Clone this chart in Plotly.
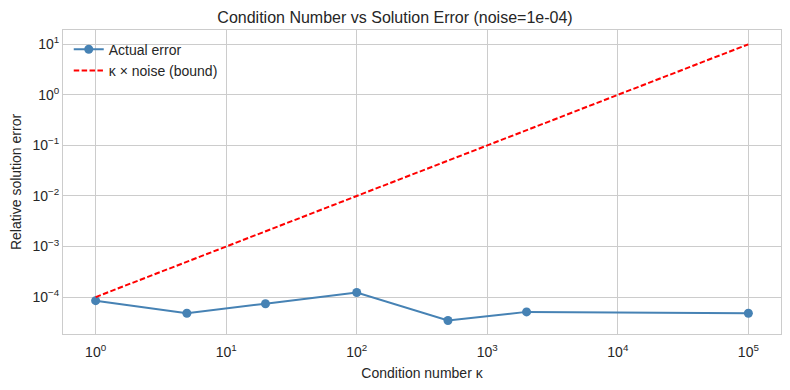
import plotly.graph_objects as go

# Data
kappas = [1, 5, 20, 100, 500, 2000, 100000]
actual_error = [8.5e-5, 4.8e-5, 7.4e-5, 1.23e-4, 3.45e-5, 5.1e-5, 4.8e-5]
bound = [1e-4, 5e-4, 2e-3, 1e-2, 5e-2, 2e-1, 10.0]

x_tick_exps = [0, 1, 2, 3, 4, 5]
y_tick_exps = [-4, -3, -2, -1, 0, 1]

FONT = "Liberation Sans, Arial, sans-serif"
TXT = "#262626"
GRID = "#cccccc"

W, H = 774, 374  # page body has 8px margin

fig = go.Figure()
fig.add_trace(go.Scatter(
    x=kappas, y=actual_error, mode="lines+markers", name="Actual error",
    line=dict(color="#4682B4", width=2),
    marker=dict(color="#4682B4", size=9),
))
fig.add_trace(go.Scatter(
    x=kappas, y=bound, mode="lines", name="κ × noise (bound)",
    line=dict(color="#ff0000", width=2, dash="5.5px,2.4px"),
))

fig.update_layout(
    width=W, height=H,
    margin=dict(l=55, r=1, t=22, b=48),
    paper_bgcolor="white", plot_bgcolor="white",
    font=dict(family=FONT, color=TXT, size=13),
    title=dict(text="Condition Number vs Solution Error (noise=1e-04)",
               x=0.5, xanchor="center", y=1 - 9/H, yanchor="middle",
               font=dict(size=16, color=TXT)),
    showlegend=True,
    legend=dict(x=0.008, y=0.988, xanchor="left", yanchor="top",
                bgcolor="rgba(0,0,0,0)", font=dict(size=14, color=TXT)),
    hovermode=False,
)
fig.update_xaxes(
    type="log", range=[-0.25, 5.25], automargin=False,
    tickvals=[10 ** e for e in x_tick_exps],
    ticktext=[f"10<sup>{e}</sup>" for e in x_tick_exps],
    showgrid=True, gridcolor=GRID, gridwidth=1,
    showline=True, linecolor=GRID, linewidth=1, mirror=True,
    zeroline=False, ticks="", ticklabelstandoff=5,
    tickfont=dict(size=14, color=TXT),
    title=dict(text="Condition number κ", font=dict(size=14, color=TXT), standoff=9),
)
fig.update_yaxes(
    type="log", range=[-4.73, 1.283], automargin=False,
    tickvals=[10 ** e for e in y_tick_exps],
    ticktext=[f"10<sup>{e}</sup>".replace("-", "−") for e in y_tick_exps],
    showgrid=True, gridcolor=GRID, gridwidth=1,
    showline=True, linecolor=GRID, linewidth=1, mirror=True,
    zeroline=False, ticks="",
    tickfont=dict(size=14, color=TXT),
    title=dict(text="Relative solution error", font=dict(size=14, color=TXT), standoff=21),
)

fig.write_html("out.html")
